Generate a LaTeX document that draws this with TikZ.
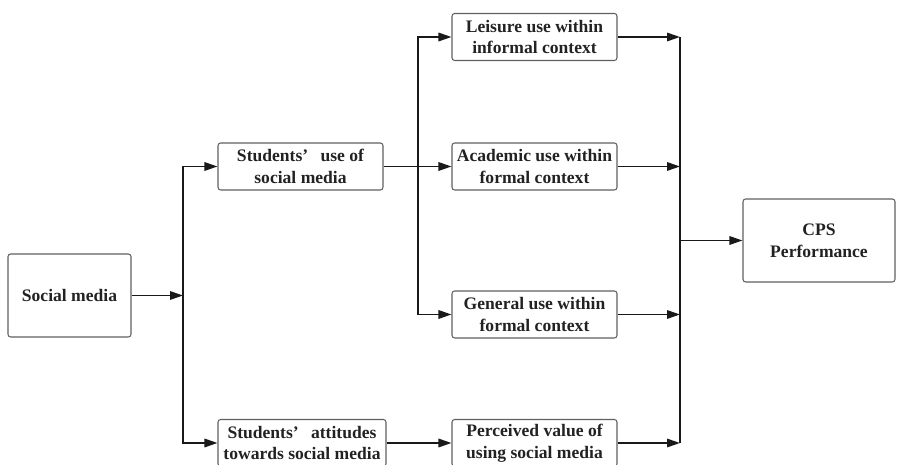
\documentclass[tikz,border=0pt]{standalone}
\usepackage{fontspec}
\setmainfont{Liberation Serif}
\usepackage{tikz}
\usetikzlibrary{arrows.meta}
\definecolor{boxgray}{RGB}{96,96,96}
\definecolor{textgray}{RGB}{34,34,34}
\definecolor{linegray}{RGB}{25,25,25}

\begin{document}
\begin{tikzpicture}[x=0.02cm, y=-0.02cm, >={Triangle[length=2.6mm,width=1.7mm]}]
    \tikzstyle{box} = [rectangle, rounded corners=1.5pt, minimum width=3.3cm, minimum height=0.94cm, align=center, draw=boxgray, line width=0.6pt, text=textgray, font=\fontsize{10}{12.5}\selectfont\bfseries, inner sep=1pt]
    \tikzstyle{bigbox} = [box, minimum height=1.66cm]
    \tikzstyle{link} = [->, draw=linegray, line width=0.9pt]

    \useasboundingbox (0,0) rectangle (904,465);

    % Source
    \node [bigbox, minimum width=2.46cm] (social) at (69.5,295.5) {Social media};

    % Students
    \node [box] (use) at (300.5,166.5) {Students’\hspace{.45em} use of\\social media};
    \node [box, minimum width=3.36cm] (attitude) at (302,443) {Students’\hspace{.45em} attitudes\\towards social media};

    % Kinds of use
    \node [box] (leisure) at (534.5,37) {Leisure use within\\informal context};
    \node [box] (academic) at (534.5,166.5) {Academic use within\\formal context};
    \node [box] (general) at (534.5,314.5) {General use within\\formal context};
    \node [box] (perceived) at (534.5,443) {Perceived value of\\using social media};

    % Outcome
    \node [bigbox, minimum width=3.04cm] (cps) at (819,240.5) {CPS\\Performance};

    % Branch points
    \coordinate (fork1) at (183,295.5);
    \coordinate (fork2) at (418,166.5);
    \coordinate (join) at (680,240.5);

    % Connections
    \draw [link] (social) -- (fork1);
    \draw [link] (fork1) |- (use);
    \draw [link] (fork1) |- (attitude);

    \draw [link] (use) -- (academic);
    \draw [link] (fork2) |- (leisure);
    \draw [link] (fork2) |- (general);
    \draw [link] (attitude) -- (perceived);

    \draw [link] (leisure) -- (leisure -| join);
    \draw [link] (academic) -- (academic -| join);
    \draw [link] (general) -- (general -| join);
    \draw [link] (perceived) -- (perceived -| join);
    \draw [draw=linegray, line width=0.9pt] (leisure -| join) -- (perceived -| join);
    \draw [link] (join) -- (cps);
\end{tikzpicture}
\end{document}
